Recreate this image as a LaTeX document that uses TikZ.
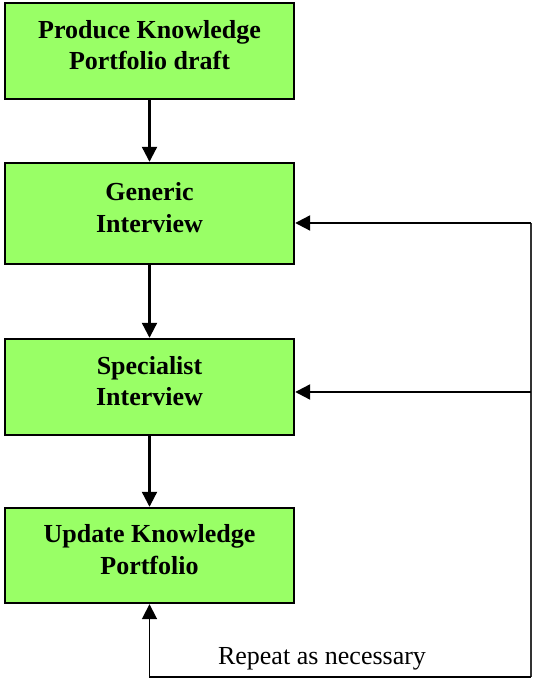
\documentclass[tikz,border=0pt]{standalone}
\usepackage{fontspec}
\setmainfont{Liberation Serif}
\usetikzlibrary{arrows.meta}
\definecolor{boxgreen}{HTML}{99FF66}
\begin{document}
\begin{tikzpicture}[x=1pt,y=1pt,
  stepbox/.style={draw=black, line width=2.4pt, fill=boxgreen,
    minimum width=289pt, inner sep=0pt, align=center, text depth=12pt,
    font=\fontsize{26}{31.5}\selectfont\bfseries},
  flow/.style={line width=2.2pt, -{Triangle[width=15pt,length=15pt]}},
  loopline/.style={line width=1.8pt, draw=black!80}]
\useasboundingbox (0,0) rectangle (533,679);

% process steps
\node[stepbox, minimum height=96pt]  (produce)    at (149.5,628)   {Produce Knowledge\\Portfolio draft};
\node[stepbox, minimum height=101pt] (generic)    at (149.5,465.5) {Generic\\Interview};
\node[stepbox, minimum height=96pt]  (specialist) at (149.5,292)   {Specialist\\Interview};
\node[stepbox, minimum height=95pt]  (update)     at (149.5,123.5) {Update Knowledge\\Portfolio};

% main flow
\draw[flow] (produce.south) -- (generic.north);
\draw[flow] (generic.south) -- (specialist.north);
\draw[flow] (specialist.south) -- (update.north);

% feedback loop
\coordinate (r1) at (531,456);
\coordinate (r2) at (531,287);
\coordinate (corner) at (531,2);
\draw[loopline] (r1) -- (corner);
\draw[flow, line width=1.8pt] (corner) -| (update.south);
\draw[flow] (r1) -- (r1 -| generic.east);
\draw[flow] (r2) -- (r2 -| specialist.east);

\node[anchor=base, font=\fontsize{26}{31}\selectfont] (repeat) at (322,14) {Repeat as necessary};
\end{tikzpicture}
\end{document}
